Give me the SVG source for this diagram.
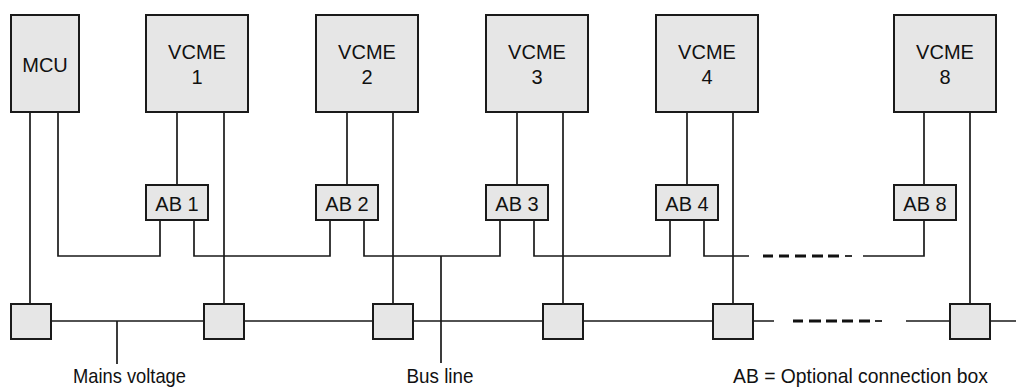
<svg xmlns="http://www.w3.org/2000/svg" width="1016" height="392" viewBox="0 0 1016 392">
<style>
.box{fill:#e6e6e6;stroke:#1a1a1a;stroke-width:2}
.t{font-family:"Liberation Sans",Arial,sans-serif;font-size:20px;fill:#111;text-anchor:middle}
.lbl{font-family:"Liberation Sans Narrow","Liberation Sans",Arial,sans-serif;font-stretch:condensed;font-size:21px;fill:#111;text-anchor:middle}
.w{fill:none;stroke:#1a1a1a;stroke-width:1.7}
.d{fill:none;stroke:#111;stroke-width:3}
.dt{fill:none;stroke:#333;stroke-width:2}
</style>
<rect width="1016" height="392" fill="#fff"/>
<g id="connectors">
<path class="w" d="M30 112V304M58 112V256H160V220M177 112V185M224 112V304M194 220V256H330V220M347 112V185M393 112V304M364 220V256H500V220M517 112V185M563 112V304M534 220V256H670V220M687 112V185M733 112V304M704 220V256H749M863 256H924V220M924 112V185M970 112V304"/>
<path class="d" d="M763 256H773M779 256H789M795 256H806M812 256H823M828 256H839"/>
<path class="dt" d="M845 256H852"/>
<path class="w" d="M51 321H204M244 321H373M413 321H543M583 321H713M753 321H774M906 321H950M990 321H1016"/>
<path class="d" d="M793 321H803M809 321H821M826 321H837M842 321H853M859 321H870"/>
<path class="dt" d="M875 321H882"/>
<path class="w" stroke-width="2.2" d="M117 321V364M441 256V363"/>
</g>
<g id="mcu"><rect class="box" x="11" y="15" width="68" height="97"/><text class="t" x="45" y="72">MCU</text></g>
<g id="vcme1"><rect class="box" x="146" y="15" width="102" height="97"/><text class="t" x="197" y="59">VCME</text><text class="t" x="197" y="84">1</text></g>
<g id="vcme2"><rect class="box" x="316" y="15" width="102" height="97"/><text class="t" x="367" y="59">VCME</text><text class="t" x="367" y="84">2</text></g>
<g id="vcme3"><rect class="box" x="486" y="15" width="102" height="97"/><text class="t" x="537" y="59">VCME</text><text class="t" x="537" y="84">3</text></g>
<g id="vcme4"><rect class="box" x="656" y="15" width="102" height="97"/><text class="t" x="707" y="59">VCME</text><text class="t" x="707" y="84">4</text></g>
<g id="vcme8"><rect class="box" x="894" y="15" width="102" height="97"/><text class="t" x="945" y="59">VCME</text><text class="t" x="945" y="84">8</text></g>
<g id="ab1"><rect class="box" x="146" y="185" width="62" height="35"/><text class="t" x="177" y="211">AB 1</text></g>
<g id="ab2"><rect class="box" x="316" y="185" width="62" height="35"/><text class="t" x="347" y="211">AB 2</text></g>
<g id="ab3"><rect class="box" x="486" y="185" width="62" height="35"/><text class="t" x="517" y="211">AB 3</text></g>
<g id="ab4"><rect class="box" x="656" y="185" width="62" height="35"/><text class="t" x="687" y="211">AB 4</text></g>
<g id="ab8"><rect class="box" x="894" y="185" width="62" height="35"/><text class="t" x="925" y="211">AB 8</text></g>
<g id="sq0"><rect class="box" x="11" y="304" width="40" height="35"/></g>
<g id="sq1"><rect class="box" x="204" y="304" width="40" height="35"/></g>
<g id="sq2"><rect class="box" x="373" y="304" width="40" height="35"/></g>
<g id="sq3"><rect class="box" x="543" y="304" width="40" height="35"/></g>
<g id="sq4"><rect class="box" x="713" y="304" width="40" height="35"/></g>
<g id="sq8"><rect class="box" x="950" y="304" width="40" height="35"/></g>
<g id="labels">
<text class="lbl" x="129.5" y="383" textLength="113" lengthAdjust="spacingAndGlyphs">Mains voltage</text>
<text class="lbl" x="440" y="383" textLength="67" lengthAdjust="spacingAndGlyphs">Bus line</text>
<text class="lbl" x="860.5" y="383" textLength="255" lengthAdjust="spacingAndGlyphs">AB = Optional connection box</text>
</g>
</svg>
